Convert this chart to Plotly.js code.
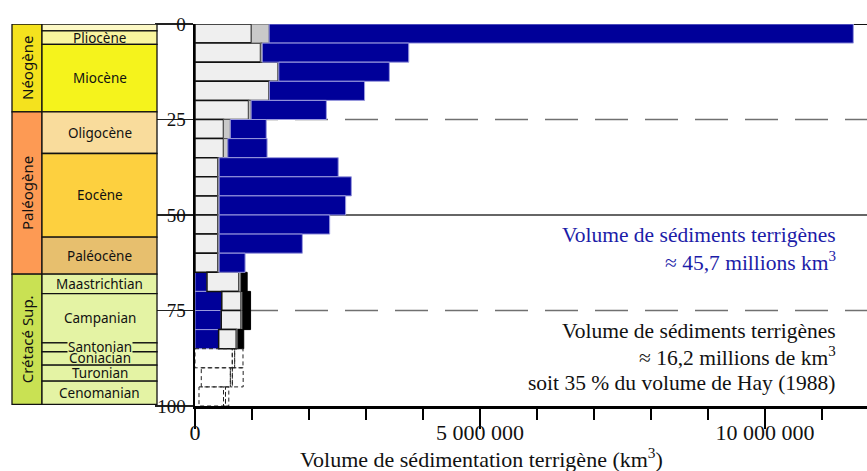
<!DOCTYPE html>
<html>
<head>
<meta charset="utf-8">
<script src="https://cdn.plot.ly/plotly-3.0.1.min.js"></script>
<style>html,body{margin:0;padding:0;background:#fff;}</style>
</head>
<body>
<div id="chart" style="width:867px;height:471px;"></div>
<script>
// ---- Data (age bins of 5 Ma, values in km3) ----
var rowMid = [2.5, 7.5, 12.5, 17.5, 22.5, 27.5, 32.5, 37.5, 42.5, 47.5, 52.5, 57.5, 62.5, 67.5, 72.5, 77.5, 82.5];
var blueLow   = [0, 0, 0, 0, 0, 0, 0, 0, 0, 0, 0, 0, 0, 210000, 470000, 460000, 415000];
var lightGray = [990000, 1150000, 1460000, 1300000, 940000, 500000, 500000, 400000, 400000, 400000, 400000, 400000, 400000, 560000, 340000, 350000, 310000];
var grayPart  = [310000, 30000, 10000, 5000, 45000, 120000, 75000, 23000, 23000, 23000, 23000, 23000, 23000, 40000, 30000, 30000, 30000];
var blackPart = [0, 0, 0, 0, 0, 0, 0, 0, 0, 0, 0, 0, 0, 105000, 135000, 135000, 100000];
var blueHigh  = [10250000, 2570000, 1940000, 1670000, 1320000, 630000, 690000, 2090000, 2320000, 2220000, 1940000, 1460000, 456000, 0, 0, 0, 0];

// uncertain (dashed) bins
var dashMid    = [87.5, 92.5, 97.5];
var dashOffset = [0, 110000, 70000];
var dashLight  = [654000, 510000, 430000];
var dashGray   = [42000, 35000, 35000];
var dashBlack  = [146000, 190000, 58000];

// stratigraphic column (GTS 2004)
var stageNames  = ['', 'Pliocène', 'Miocène', 'Oligocène', 'Eocène', 'Paléocène', 'Maastrichtian', 'Campanian', 'Santonian', 'Coniacian', 'Turonian', 'Cenomanian'];
var stageTop    = [0, 1.8, 5.33, 23.03, 33.9, 55.8, 65.5, 70.6, 83.5, 85.8, 89.3, 93.5];
var stageBase   = [1.8, 5.33, 23.03, 33.9, 55.8, 65.5, 70.6, 83.5, 85.8, 89.3, 93.5, 99.6];
var stageColors = ['#fcf8c4', '#f9f59e', '#f5f31c', '#f9dc9c', '#fdd03f', '#e7bf6e', '#e4f3a4', '#e4f3a4', '#e4f3a4', '#e4f3a4', '#e4f3a4', '#e4f3a4'];
var periodNames  = ['Néogène', 'Paléogène', 'Crétacé Sup.'];
var periodTop    = [0, 23.03, 65.5];
var periodBase   = [23.03, 65.5, 99.6];
var periodColors = ['#f4e21e', '#fd9a54', '#c9e153'];

var yTicks = [0, 25, 50, 75, 100];
var xTickVals = [0, 5000000, 10000000];
var xTickText = ['0', '5 000 000', '10 000 000'];
var xMinorTicks = [1000000, 2000000, 3000000, 4000000, 6000000, 7000000, 8000000, 9000000, 11000000];

var noteLines  = ['Volume de sédiments terrigènes', '≈ 45,7 millions km<sup>3</sup>',
                  'Volume de sédiments terrigènes', '≈ 16,2 millions de km<sup>3</sup>', 'soit 35 % du volume de Hay (1988)'];
var noteAges   = [55.3, 62.2, 80.4, 87.1, 94.1];
var noteColors = ['#1c1ca8', '#1c1ca8', '#111', '#111', '#111'];
var refLines = [25, 50, 75];
var refDash  = ['33px,17px', 'solid', '33px,17px'];

// ---- Build ----
var XMAX = 11790000;
function nz(a){ return a.map(function(v){ return v === 0 ? null : v; }); }
var base1 = blueLow.slice();
var base2 = base1.map(function(v,i){ return v + lightGray[i]; });
var base3 = base2.map(function(v,i){ return v + grayPart[i]; });
var base4 = base3.map(function(v,i){ return v + blackPart[i]; });

function barTrace(x, base, color, lcol, lw){
  return {type:'bar', orientation:'h', y: rowMid, x: nz(x), base: base, width: 5,
    marker:{color: color, line:{color: lcol, width: lw}}, hoverinfo:'skip'};
}
var traces = [
  barTrace(blueLow, rowMid.map(function(){return 0;}), '#000099', '#9a9ade', 1),
  barTrace(lightGray, base1, '#efefef', '#111', 1.5),
  barTrace(grayPart, base2, '#c9c9c9', '#555', 1),
  barTrace(blackPart, base3, '#000', '#000', 1),
  barTrace(blueHigh, base4, '#000099', '#9a9ade', 1)
];

// dashed rectangles
var dx = [], dy = [];
dashMid.forEach(function(m, i){
  var segs = [[dashOffset[i], dashLight[i]], [dashOffset[i]+dashLight[i], dashGray[i]], [dashOffset[i]+dashLight[i]+dashGray[i], dashBlack[i]]];
  segs.forEach(function(s){
    var a = s[0], b = s[0] + s[1], y0 = m - 2.5, y1 = m + 2.5;
    dx.push(a, b, b, a, a, null); dy.push(y0, y0, y1, y1, y0, null);
  });
});
traces.push({type:'scatter', mode:'lines', x: dx, y: dy, line:{color:'#222', width:1, dash:'4px,3px'}, hoverinfo:'skip', connectgaps:false});

var shapes = [];
refLines.forEach(function(v, i){
  shapes.push({type:'line', xref:'x', yref:'y', x0: 0, x1: XMAX, y0: v, y1: v, layer:'below',
    line:{color: refDash[i] === 'solid' ? '#333' : '#707070', width: 1.5, dash: refDash[i]}});
});
shapes.push({type:'line', xref:'x', yref:'y', x0: 0, x1: XMAX, y0: 0, y1: 0, layer:'below', line:{color:'#111', width:2}});

// column geometry (paper x)
var W = 672, L = 195;
function px2paper(p){ return (p - L) / W; }
var colOuterL = px2paper(12), colDiv = px2paper(42), colInnerR = px2paper(157);
periodNames.forEach(function(n, i){
  shapes.push({type:'rect', xref:'paper', yref:'y', x0: colOuterL, x1: colDiv, y0: periodTop[i], y1: periodBase[i],
    fillcolor: periodColors[i], line:{color:'#111', width:1.3}});
});
stageNames.forEach(function(n, i){
  shapes.push({type:'rect', xref:'paper', yref:'y', x0: colDiv, x1: colInnerR, y0: stageTop[i], y1: stageBase[i],
    fillcolor: stageColors[i], line:{color:'#111', width:1.3}});
});

var annotations = [];
var sansFont = 'Noto Sans, Open Sans, sans-serif';
stageNames.forEach(function(n, i){
  if (!n) return;
  var a = {xref:'paper', yref:'y', x: (colDiv + colInnerR)/2, y: (stageTop[i] + stageBase[i])/2,
    text: n, showarrow:false, xanchor:'center', yanchor:'middle',
    font:{family: sansFont, size: 13.5, color:'#111'}};
  if (n === 'Santonian') { a.bgcolor = stageColors[i]; a.borderpad = 0; }
  annotations.push(a);
});
periodNames.forEach(function(n, i){
  annotations.push({xref:'paper', yref:'y', x: (colOuterL + colDiv)/2, y: (periodTop[i] + periodBase[i])/2,
    text: n, textangle: -90, showarrow:false, xanchor:'center', yanchor:'middle',
    font:{family: sansFont, size: 15, color:'#111'}});
});
noteLines.forEach(function(t, i){
  annotations.push({xref:'x', yref:'y', x: 11280000, y: noteAges[i], text: t, showarrow:false,
    xanchor:'right', yanchor:'middle', font:{family:'Liberation Serif, serif', size: 21.5, color: noteColors[i]}});
});
annotations.push({xref:'x', yref:'paper', x: 5020000, y: -0.136, text:'Volume de sédimentation terrigène (km<sup>3</sup>)',
  showarrow:false, xanchor:'center', yanchor:'middle', font:{family:'Liberation Serif, serif', size: 22, color:'#111'}});

var layout = {
  width: 867, height: 471,
  margin: {l: 195, r: 0, t: 24, b: 65, pad: 0},
  paper_bgcolor: '#fff', plot_bgcolor: '#fff',
  showlegend: false, barmode: 'overlay',
  xaxis: {range: [0, XMAX], showgrid: false, zeroline: false, showline: true, linecolor: '#000', linewidth: 2.5,
    tickmode: 'array', tickvals: xTickVals, ticktext: xTickText, ticks: 'outside', ticklen: 20, tickwidth: 2.5, tickcolor: '#000',
    ticklabelstandoff: -15,
    minor: {tickmode: 'array', tickvals: xMinorTicks, ticks: 'outside', ticklen: 11, tickwidth: 1.5, tickcolor: '#000', showgrid: false},
    tickfont: {family: 'Liberation Serif, serif', size: 22, color: '#111'}, fixedrange: true},
  yaxis: {range: [100, 0], showgrid: false, zeroline: false, showline: true, linecolor: '#000', linewidth: 2.5,
    tickmode: 'array', tickvals: yTicks, ticks: 'outside', ticklen: 38, tickwidth: 1.2, tickcolor: '#222',
    ticklabelstandoff: -35,
    tickfont: {family: 'Liberation Serif, serif', size: 19, color: '#111'}, fixedrange: true},
  shapes: shapes,
  annotations: annotations
};

Plotly.newPlot('chart', traces, layout, {displayModeBar: false, staticPlot: true});
</script>
</body>
</html>
